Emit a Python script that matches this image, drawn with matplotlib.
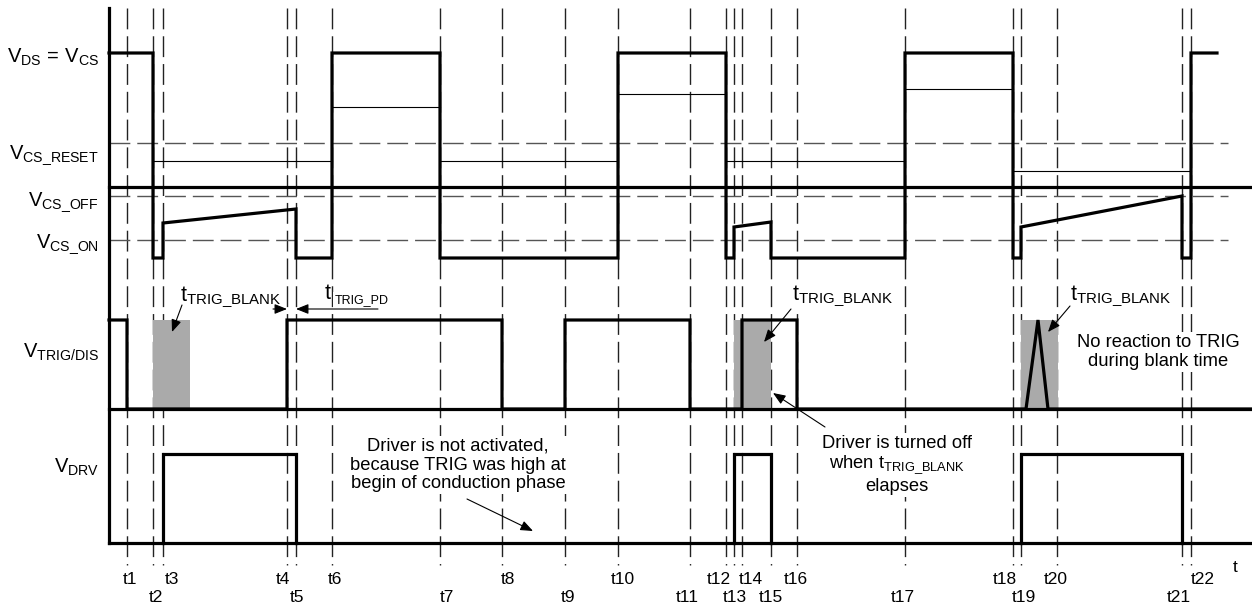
import matplotlib.pyplot as plt
from matplotlib.patches import Rectangle

plt.rcParams['font.family'] = ['Liberation Sans', 'DejaVu Sans']
plt.rcParams['mathtext.fontset'] = 'custom'
plt.rcParams['mathtext.rm'] = 'Liberation Sans'
plt.rcParams['mathtext.it'] = 'Liberation Sans:italic'
plt.rcParams['mathtext.bf'] = 'Liberation Sans:bold'
plt.rcParams['lines.scale_dashes'] = False

# time marks t1..t22 (positions along the time axis)
t_pos = [127, 153, 163, 287, 296, 332, 440, 502, 565, 618, 690,
         726, 734, 742, 771, 797, 905, 1013, 1021, 1057, 1182, 1191]
t_row = [0, 1, 0, 0, 1, 0, 1, 0, 1, 0, 1, 0, 1, 0, 1, 0, 1, 0, 1, 0, 1, 0]
t_dx = [3, 3, 9, -4, 1, 3, 7, 6, 3, 5, -3, -7, 1, 9, 0, -1, -2, -8, 3, -1, -3, 12]

# signal levels (vertical position in the drawing)
lvl_high, lvl_reset, lvl_off, lvl_on, lvl_low = 53, 143, 196, 240, 258
lvl_sep = 187
trig_hi, trig_lo = 320, 409
drv_hi, drv_lo = 454, 543

level_labels = [r'$\mathrm{V_{DS}\,=\,V_{CS}}$', r'$\mathrm{V_{CS\_RESET}}$',
                r'$\mathrm{V_{CS\_OFF}}$', r'$\mathrm{V_{CS\_ON}}$',
                r'$\mathrm{V_{TRIG/DIS}}$', r'$\mathrm{V_{DRV}}$']
level_label_y = [63, 159, 206, 248, 358, 473]
dashed_levels = [lvl_reset, lvl_off, lvl_on]

# V_DS / V_CS waveform
vds_x = [109, 153, 153, 163, 163, 296, 296, 332, 332, 440, 440, 618, 618, 726, 726,
         734, 734, 771, 771, 905, 905, 1013, 1013, 1021, 1021, 1182, 1182, 1191, 1191, 1217]
vds_y = [53, 53, 258, 258, 223, 209, 258, 258, 53, 53, 258, 258, 53, 53, 258,
         258, 227, 222, 258, 258, 53, 53, 258, 258, 227, 196, 258, 258, 53, 53]

# thin reference levels during each phase
ref_x0 = [153, 332, 440, 618, 726, 905, 1013]
ref_x1 = [332, 440, 618, 726, 905, 1013, 1191]
ref_y = [161, 107, 161, 94, 161, 89, 171]

# TRIG/DIS waveform
trig_x = [109, 127, 127, 287, 287, 502, 502, 565, 565, 690, 690, 742, 742,
          797, 797, 1026, 1038, 1048, 1252]
trig_y = [320, 320, 409, 409, 320, 320, 409, 409, 320, 320, 409, 409, 320,
          320, 409, 409, 320, 409, 409]

# driver pulses
drv_on = [163, 734, 1021]
drv_off = [296, 771, 1182]

# blanking windows
blank_start = [153, 734, 1021]
blank_len = 37

fig = plt.figure(figsize=(12.52, 6.08), dpi=100)
ax = fig.add_axes([0, 0, 1, 1])
ax.set_xlim(0, 1252)
ax.set_ylim(608, 0)
ax.axis('off')

thick = 2.3
thin = 0.8
dash = (0, (15, 5))

# vertical time marks and labels
for i, x in enumerate(t_pos):
    ax.plot([x, x], [8, 565], color='#222222', lw=1.0, ls=dash, zorder=1)
    ax.text(x + t_dx[i], 584 + 18 * t_row[i], f't{i + 1}', ha='center', va='baseline', fontsize=12.5)
ax.text(1235, 572, 't', ha='center', va='baseline', fontsize=12.5)

# dashed threshold levels
for y in dashed_levels:
    ax.plot([109, 1228], [y, y], color='#555555', lw=1.0, ls=dash, zorder=1)

# axes lines
ax.plot([109, 109], [8, drv_lo], color='black', lw=thick, zorder=3)
for y in [lvl_sep, trig_lo, drv_lo]:
    ax.plot([109, 1252], [y, y], color='black', lw=thick, zorder=3)

# level labels
for lab, y in zip(level_labels, level_label_y):
    ax.text(99, y, lab, ha='right', va='baseline', fontsize=14.5)

# blank windows
for x in blank_start:
    ax.add_patch(Rectangle((x, trig_hi), blank_len, trig_lo - trig_hi,
                           facecolor='#aaaaaa', edgecolor='none', zorder=1.5))

# waveforms
ax.plot(vds_x, vds_y, color='black', lw=thick, solid_joinstyle='miter', zorder=3)
for x0, x1, y in zip(ref_x0, ref_x1, ref_y):
    ax.plot([x0, x1], [y, y], color='black', lw=thin, zorder=2)
ax.plot(trig_x, trig_y, color='black', lw=thick, solid_joinstyle='miter', zorder=3)
for x0, x1 in zip(drv_on, drv_off):
    ax.plot([x0, x0, x1, x1], [drv_lo, drv_hi, drv_hi, drv_lo], color='black',
            lw=thick, solid_joinstyle='miter', zorder=3)

# annotations
box = dict(facecolor='white', edgecolor='none', pad=1.5)
blank_lab = r'$\mathrm{t_{TRIG\_BLANK}}$'
for x, y in [(180, 301), (792, 300), (1070, 300)]:
    ax.text(x, y, blank_lab, ha='left', va='baseline', fontsize=15.5, bbox=box, zorder=4)
ax.text(335, 303, 'TRIG_PD', ha='left', va='baseline', fontsize=9, bbox=box, zorder=4)
ax.text(325, 299, 't', ha='left', va='baseline', fontsize=15.5, zorder=5)

ax.text(458, 465, 'Driver is not activated,\nbecause TRIG was high at\nbegin of conduction phase',
        ha='center', va='center', fontsize=13.2, linespacing=1.15, bbox=box, zorder=4)
ax.text(897, 465, 'Driver is turned off\nwhen ' + blank_lab + '\nelapses',
        ha='center', va='center', fontsize=13.2, linespacing=1.1, bbox=box, zorder=4)
ax.text(1158, 352, 'No reaction to TRIG\nduring blank time',
        ha='center', va='center', fontsize=13.2, linespacing=1.15, bbox=box, zorder=4)

arrows = [((182, 305), (172, 332)), ((273, 309), (287, 309)), ((378, 309), (296, 309)),
          ((791, 309), (764, 342)), ((825, 427), (773, 393)), ((1070, 306), (1048, 332)),
          ((467, 499), (533, 531))]
for tail, head in arrows:
    ax.annotate('', xy=head, xytext=tail,
                arrowprops=dict(arrowstyle='-|>,head_length=0.75,head_width=0.3',
                                color='black', lw=0.8, shrinkA=0, shrinkB=0,
                                mutation_scale=10), zorder=5)

fig.savefig('out.png', dpi=100)
